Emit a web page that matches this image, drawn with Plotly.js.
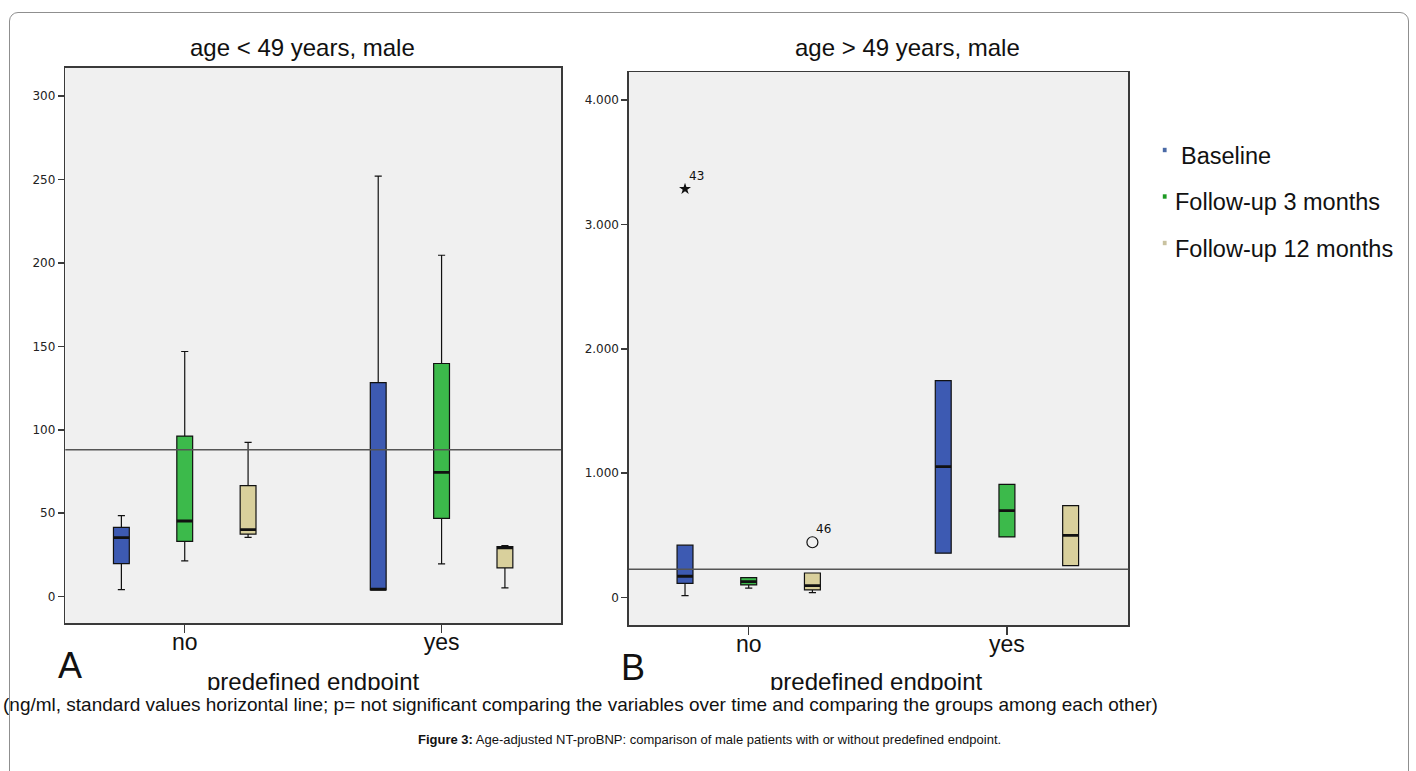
<!DOCTYPE html>
<html><head><meta charset="utf-8">
<script src="https://cdn.plot.ly/plotly-3.0.1.min.js"></script>
<style>
html,body{margin:0;padding:0;background:#fff;}
#wrap{position:relative;width:1416px;height:771px;overflow:hidden;}
#chart{position:absolute;left:0;top:0;width:1416px;height:771px;}
#mask{position:absolute;left:10px;top:689.5px;width:1397px;height:5px;background:#fff;}
#frame{position:absolute;left:9px;top:12px;width:1398px;height:800px;border:1px solid #8f8f8f;border-radius:9px 9px 0 0;pointer-events:none;}
</style></head><body>
<div id="wrap"><div id="chart"></div><div id="mask"></div><div id="frame"></div></div>
<script>
// ---------- data ----------
const categories = ['no', 'yes'];
const seriesNames = ['Baseline', 'Follow-up 3 months', 'Follow-up 12 months'];
const seriesColors = ['#3d5ab2', '#3cba4b', '#d9d09c'];

// Panel A: age < 49 years, male  (rows = series, cols = categories)
const aLow  = [[4.2, 4.0], [21.4, 19.6], [35.5, 5.2]];
const aQ1   = [[19.8, 4.0], [33.1, 46.9], [37.5, 17.2]];
const aMed  = [[35.3, 4.4], [45.3, 74.4], [40.1, 29.2]];
const aQ3   = [[41.5, 128.3], [96.2, 139.7], [66.5, 30.0]];
const aHigh = [[48.5, 252.0], [146.9, 204.6], [92.4, 30.5]];
const aStandard = 88;
const aTicks = [0, 50, 100, 150, 200, 250, 300];

// Panel B: age > 49 years, male
const bLow  = [[16, 357], [76, 488], [40, 257]];
const bQ1   = [[114, 357], [102, 488], [62, 257]];
const bMed  = [[172, 1053], [129, 699], [97, 501]];
const bQ3   = [[422, 1744], [160, 911], [198, 740]];
const bHigh = [[422, 1744], [162, 911], [198, 740]];
const bOutliers = [[[3285], []], [[], []], [[445], []]];
const bOutlierIds = [[['43'], []], [[], []], [['46'], []]];
const bStandard = 228;
const bTicks = [0, 1000, 2000, 3000, 4000];

// ---------- styling ----------
const FONT = 'Liberation Sans, Arial, sans-serif';
const TICKFONT = 'DejaVu Sans, sans-serif';
const BOXGAP = 0.26, BOXGROUPGAP = 0.75;
const outlierMarkers = [
  {symbol: 'star', size: 9, color: '#111'},
  {symbol: 'circle', size: 6, color: '#111'},
  {symbol: 'circle-open', size: 11, color: '#111', line: {width: 1.2, color: '#111'}}
];

function buildTraces(xa, ya, low, q1, med, q3, high, outliers) {
  const traces = [];
  for (let s = 0; s < seriesNames.length; s++) {
    const hasOut = outliers && outliers[s].some(a => a.length);
    const t = {
      type: 'box', orientation: 'v', name: seriesNames[s],
      x: categories, q1: q1[s], median: med[s], q3: q3[s],
      lowerfence: low[s], upperfence: high[s],
      xaxis: xa, yaxis: ya, offsetgroup: 'g' + s,
      fillcolor: seriesColors[s], line: {color: '#111', width: 1.2},
      whiskerwidth: 0.45, showlegend: false,
      boxpoints: hasOut ? 'outliers' : false, pointpos: 0, jitter: 0
    };
    if (hasOut) { t.y = outliers[s]; t.marker = outlierMarkers[s]; }
    traces.push(t);
  }
  // thick median bars (SPSS style)
  for (let s = 0; s < seriesNames.length; s++) {
    traces.push({
      type: 'box', orientation: 'v', name: seriesNames[s] + ' median',
      x: categories, q1: med[s], median: med[s], q3: med[s],
      lowerfence: med[s], upperfence: med[s],
      xaxis: xa, yaxis: ya, offsetgroup: 'g' + s,
      fillcolor: 'rgba(0,0,0,0)', line: {color: '#111', width: 2.8},
      whiskerwidth: 0, showlegend: false, boxpoints: false, hoverinfo: 'skip'
    });
  }
  return traces;
}

const data = [].concat(
  buildTraces('x', 'y', aLow, aQ1, aMed, aQ3, aHigh, null),
  buildTraces('x2', 'y2', bLow, bQ1, bMed, bQ3, bHigh, bOutliers)
);

const W = 1416, H = 771;
const px = v => v / W;
const py = v => 1 - v / H;

function xAxis(domain, range) {
  return {
    type: 'category', categoryorder: 'array', categoryarray: categories,
    domain: domain, range: range, showline: true, mirror: true,
    linecolor: '#3a3a3a', linewidth: 1.5, ticks: 'outside', ticklen: 8,
    tickcolor: '#3a3a3a', tickwidth: 1.5, showgrid: false, zeroline: false,
    ticklabelstandoff: -10,
    tickfont: {family: FONT, size: 23, color: '#111'}, fixedrange: true
  };
}
function yAxis(domain, range, ticks, anchor) {
  return {
    domain: domain, range: range, tickvals: ticks, tickformat: ',d',
    showline: true, mirror: true, linecolor: '#3a3a3a', linewidth: 1.5,
    ticks: 'outside', ticklen: 6, tickcolor: '#3a3a3a', tickwidth: 1.5,
    showgrid: false, zeroline: false, anchor: anchor,
    tickfont: {family: TICKFONT, size: 12, color: '#222'}, fixedrange: true
  };
}

const gf = 1 - BOXGAP;
const seriesOffset = s => (s - 1) * gf / 3;

const annotations = [
  {text: 'age &lt; 49 years, male', x: px(302.6), y: py(47.5), font: {family: FONT, size: 24, color: '#111'}},
  {text: 'age &gt; 49 years, male', x: px(907), y: py(47.5), font: {family: FONT, size: 24, color: '#111'}},
  {text: 'A', x: px(70), y: py(665), font: {family: FONT, size: 36, color: '#111'}},
  {text: 'B', x: px(633), y: py(667), font: {family: FONT, size: 36, color: '#111'}},
  {text: 'predefined endpoint', x: px(313), y: py(681), font: {family: FONT, size: 24, color: '#111'}},
  {text: 'predefined endpoint', x: px(876), y: py(681), font: {family: FONT, size: 24, color: '#111'}},
  {text: '(ng/ml, standard values horizontal line; p= not significant comparing the variables over time and comparing the groups among each other)',
   x: px(1), xanchor: 'left', y: py(704), font: {family: FONT, size: 19, color: '#111'}},
  {text: '<b>Figure 3:</b> Age-adjusted NT-proBNP: comparison of male patients with or without predefined endpoint.',
   x: px(709), y: py(739), font: {family: FONT, size: 13, color: '#111'}}
];

// legend (custom, text + small square keys)
const legendTextX = [1179.3, 1172.7, 1172.7];
const legendTextY = [156.5, 202.5, 249];
const legendKeyY = [150, 196.5, 243];
const shapes = [
  {type: 'line', xref: 'x domain', x0: 0, x1: 1, yref: 'y', y0: aStandard, y1: aStandard, line: {color: '#555', width: 1.4}},
  {type: 'line', xref: 'x2 domain', x0: 0, x1: 1, yref: 'y2', y0: bStandard, y1: bStandard, line: {color: '#555', width: 1.4}}
];
for (let s = 0; s < seriesNames.length; s++) {
  annotations.push({text: seriesNames[s], x: px(legendTextX[s]), xanchor: 'left', y: py(legendTextY[s]),
    font: {family: FONT, size: 23.5, color: '#111'}});
  shapes.push({type: 'rect', xref: 'paper', yref: 'paper', x0: px(1162.8), x1: px(1166.6),
    y0: py(legendKeyY[s] + 2.2), y1: py(legendKeyY[s] - 2.2), line: {width: 0},
    fillcolor: ['#4a6aa6', '#1d9a23', '#c9c2a0'][s]});
}
annotations.forEach(a => {
  a.xref = 'paper'; a.yref = 'paper';
  if (!a.xanchor) a.xanchor = 'center';
  if (!a.yanchor) a.yanchor = 'middle';
});
// outlier case labels
for (let s = 0; s < seriesNames.length; s++) {
  for (let c = 0; c < categories.length; c++) {
    bOutliers[s][c].forEach((v, k) => {
      annotations.push({text: bOutlierIds[s][c][k], x: c + seriesOffset(s), y: v, xref: 'x2', yref: 'y2',
        xanchor: 'center', yanchor: 'middle',
        xshift: 11, yshift: 13, font: {family: TICKFONT, size: 12, color: '#111'}});
    });
  }
}
annotations.forEach(a => { a.showarrow = false; });

const layout = {
  width: W, height: H, margin: {l: 0, r: 0, t: 0, b: 0},
  paper_bgcolor: '#ffffff', plot_bgcolor: '#f0f0f0',
  separators: ',.', showlegend: false,
  boxmode: 'group', boxgap: BOXGAP, boxgroupgap: BOXGROUPGAP,
  xaxis: Object.assign(xAxis([65.3 / W, 561 / W], [-0.465, 1.465]), {anchor: 'y'}),
  yaxis: yAxis([py(623.3), py(67.7)], [-16, 317], aTicks, 'x'),
  xaxis2: Object.assign(xAxis([628.9 / W, 1128.3 / W], [-0.464, 1.47]), {anchor: 'y2'}),
  yaxis2: yAxis([py(625), py(72)], [-220, 4225], bTicks, 'x2'),
  annotations: annotations, shapes: shapes
};

Plotly.newPlot('chart', data, layout, {displayModeBar: false, staticPlot: true});
</script>
</body></html>
